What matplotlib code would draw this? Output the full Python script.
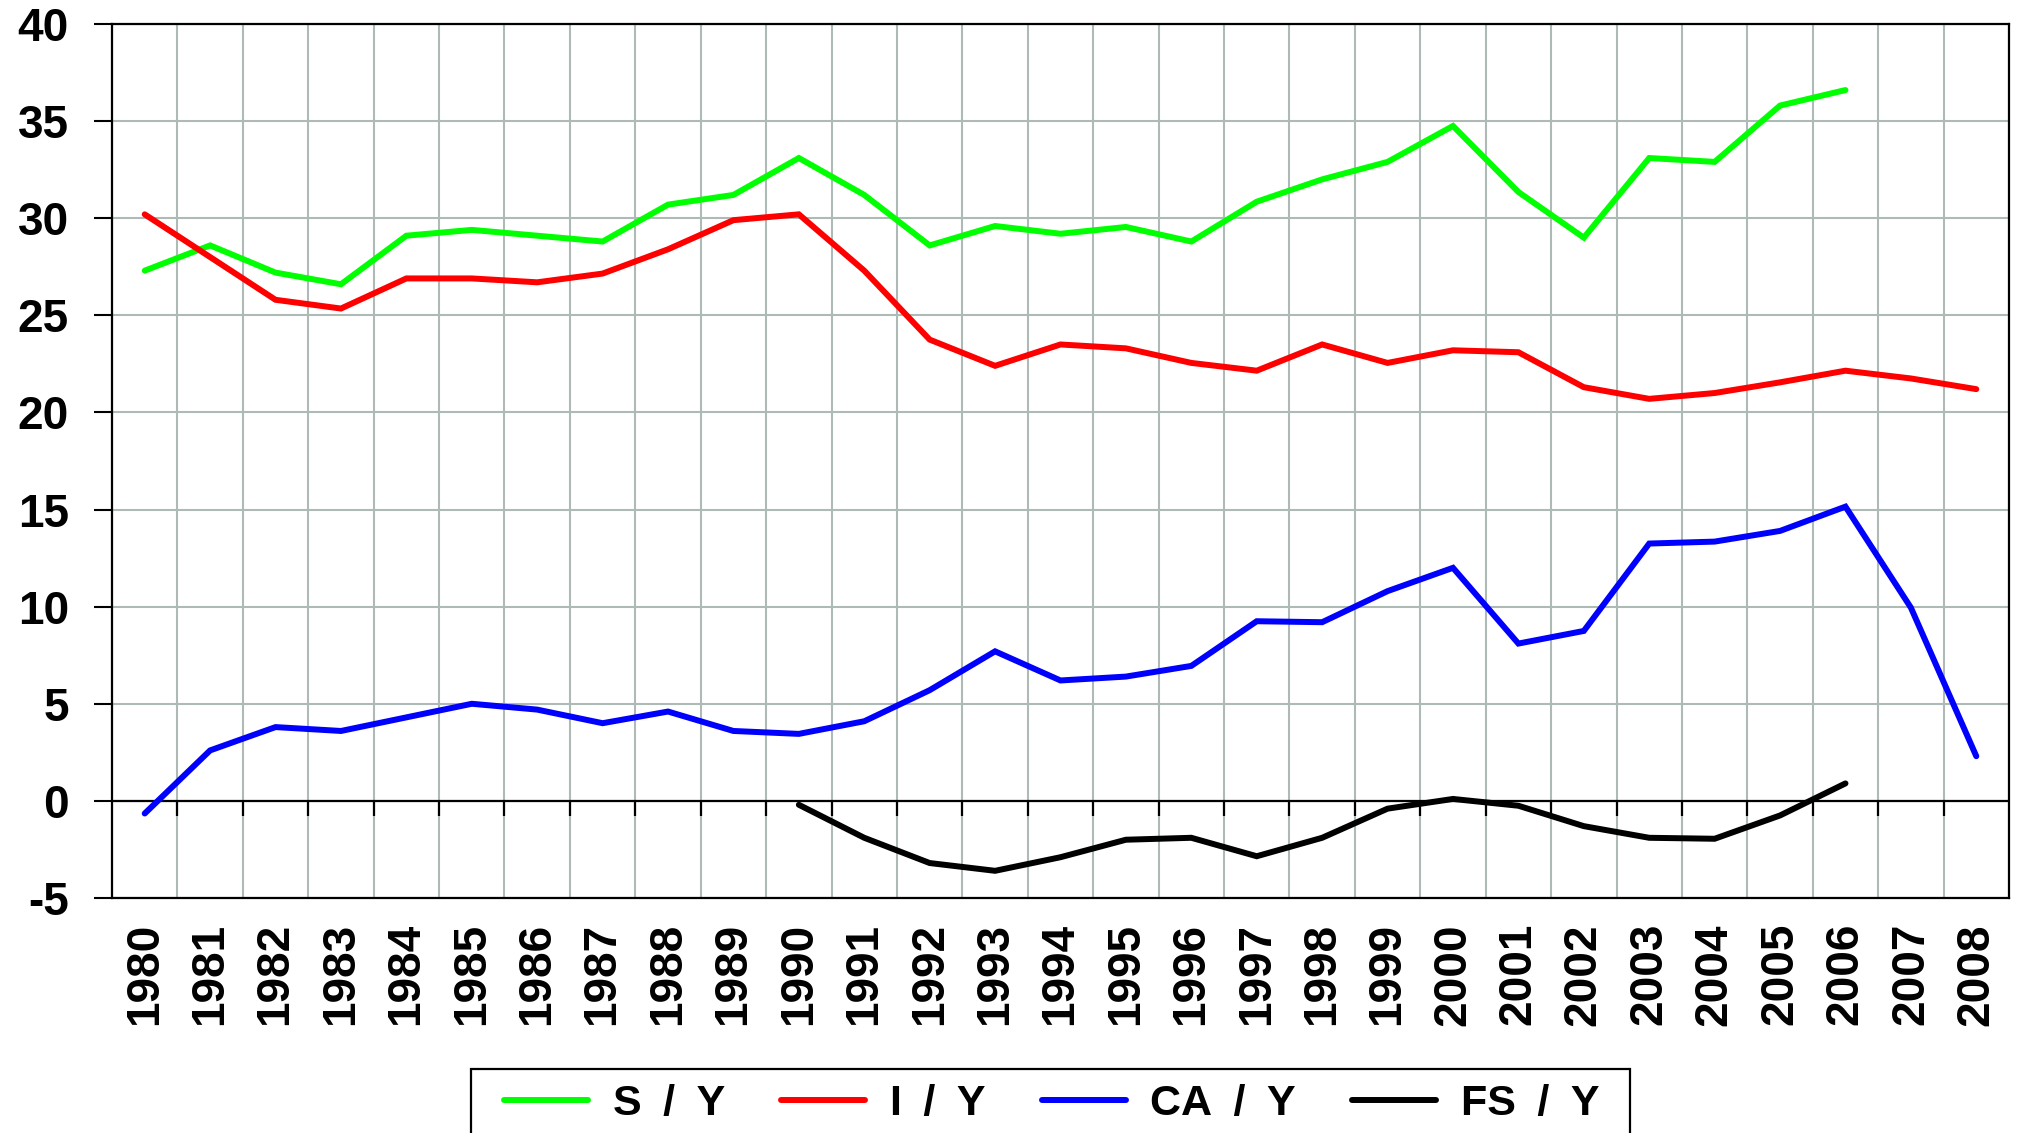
"""Saving, investment, current account and fiscal balance ratios, 1980-2008."""
import matplotlib
matplotlib.use("Agg")
import matplotlib.pyplot as plt
from matplotlib.patches import Rectangle
import numpy as np

plt.rcParams["font.family"] = ["Liberation Sans", "DejaVu Sans"]
plt.rcParams["font.weight"] = "bold"

years = [str(y) for y in range(1980, 2009)]

# S / Y (1980-2006)
saving = [27.3, 28.6, 27.2, 26.6, 29.1, 29.4, 29.1, 28.8, 30.7, 31.2,
          33.1, 31.2, 28.6, 29.6, 29.2, 29.55, 28.8, 30.85, 32.0, 32.9,
          34.75, 31.35, 29.0, 33.1, 32.9, 35.8, 36.6]
# I / Y (1980-2008)
investment = [30.2, 28.0, 25.8, 25.35, 26.9, 26.9, 26.7, 27.15, 28.4, 29.9,
              30.2, 27.3, 23.75, 22.4, 23.5, 23.3, 22.55, 22.15, 23.5, 22.55,
              23.2, 23.1, 21.3, 20.7, 21.0, 21.55, 22.15, 21.75, 21.2]
# CA / Y (1980-2008)
current_acct = [-0.65, 2.6, 3.8, 3.6, 4.3, 5.0, 4.7, 4.0, 4.6, 3.6,
                3.45, 4.1, 5.7, 7.7, 6.2, 6.4, 6.95, 9.25, 9.2, 10.8,
                12.0, 8.1, 8.75, 13.25, 13.35, 13.9, 15.15, 9.95, 2.3]
# FS / Y (1990-2006)
fiscal = [-0.2, -1.9, -3.2, -3.6, -2.9, -2.0, -1.9, -2.85, -1.9, -0.4,
          0.1, -0.25, -1.3, -1.9, -1.95, -0.75, 0.9]
fiscal_start = 1990

series = [
    ("S\u2002/\u2002Y", saving, 0, "#00ff00"),
    ("I\u2002/\u2002Y", investment, 0, "#ff0000"),
    ("CA\u2002/\u2002Y", current_acct, 0, "#0000ff"),
    ("FS\u2002/\u2002Y", fiscal, fiscal_start - 1980, "#000000"),
]

W, H = 2018, 1133
fig = plt.figure(figsize=(W / 100, H / 100), dpi=100)
ax = fig.add_axes([112 / W, 1 - 898 / H, (2009 - 112) / W, (898 - 24) / H])

for label, vals, start, color in series:
    x = np.arange(start, start + len(vals))
    ax.plot(x, vals, color=color, lw=4.3, label=label,
            solid_capstyle="round", solid_joinstyle="miter", zorder=3)

n = len(years)
ax.set_xlim(-0.5, n - 0.5)
ax.set_ylim(-5, 40)

ax.set_xticks(np.arange(n))
ax.set_xticklabels(years, rotation=90, fontsize=33, fontweight="bold")
ax.set_xticks(np.arange(n + 1) - 0.5, minor=True)
ax.tick_params(axis="x", which="both", length=0, pad=18)

ax.set_yticks(np.arange(-5, 41, 5))
ax.set_yticklabels([str(v) for v in range(-5, 41, 5)], fontsize=33, fontweight="bold")
ax.tick_params(axis="y", direction="out", length=13, width=1.5, pad=18, color="black")

ax.grid(True, axis="x", which="minor", color="#aebab5", lw=1.5, zorder=0)
ax.grid(True, axis="y", which="major", color="#aebab5", lw=1.5, zorder=0)
ax.set_axisbelow(True)

for sp in ax.spines.values():
    sp.set_color("black")
    sp.set_linewidth(1.6)

# zero line with category ticks
ax.axhline(0, color="black", lw=1.6, zorder=2)
ax.vlines(np.arange(1, n) - 0.5, -0.77, 0, color="black", lw=1.6, zorder=2)

# legend box (runs off the bottom of the image)
fig.patches.append(Rectangle((471 / W, -0.1), (1630 - 471) / W, (H - 1069) / H + 0.1,
                             transform=fig.transFigure, fill=False,
                             ec="black", lw=1.6))
fig.legend(loc="center left", bbox_to_anchor=(504 / W, 1 - 1104 / H),
           ncol=4, prop={"weight": "bold", "size": 31},
           handlelength=1.95, handletextpad=0.58, columnspacing=1.3,
           borderpad=0, borderaxespad=0, frameon=False)

fig.savefig("out.png", dpi=100)
plt.close(fig)
